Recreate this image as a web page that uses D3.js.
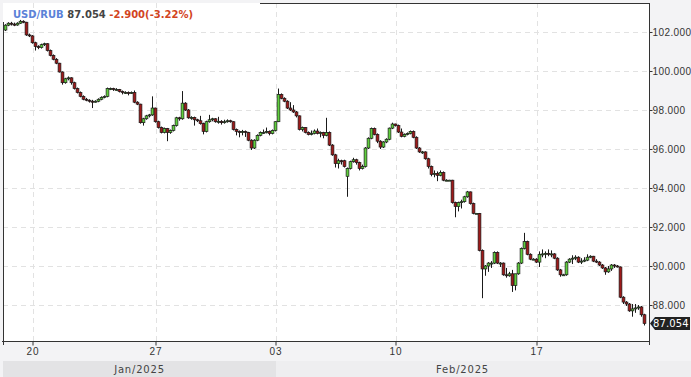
<!DOCTYPE html>
<html>
<head>
<meta charset="utf-8">
<script src="https://cdn.jsdelivr.net/npm/d3@7"></script>
<style>
  body { margin: 0; background: #f3f3f5; }
  svg { display: block; font-family: "DejaVu Sans", sans-serif; }
</style>
</head>
<body>
<svg width="691" height="377"></svg>
<script>
// USD/RUB candles, [open, high, low, close]
var candles = [
  [102.10,102.40,102.05,102.35],[102.35,102.50,102.30,102.45],[102.45,102.52,102.33,102.40],[102.40,102.48,102.30,102.36],
  [102.36,102.50,102.32,102.45],[102.45,102.62,102.42,102.55],[102.55,102.60,102.45,102.50],[102.50,102.52,101.80,101.85],
  [101.85,101.92,101.74,101.80],[101.80,101.84,101.40,101.45],[101.45,101.50,101.05,101.25],[101.25,101.32,101.12,101.20],
  [101.20,101.40,101.15,101.35],[101.35,101.45,101.28,101.40],[101.40,101.42,101.00,101.05],[101.05,101.10,100.75,100.80],
  [100.80,100.85,100.55,100.60],[100.60,100.66,100.35,100.40],[100.40,100.42,99.92,99.95],[99.95,99.98,99.30,99.40],
  [99.40,99.65,99.35,99.60],[99.60,99.72,99.52,99.65],[99.65,99.68,99.30,99.40],[99.40,99.45,99.05,99.10],
  [99.10,99.15,98.85,98.90],[98.90,98.95,98.65,98.70],[98.70,98.75,98.50,98.55],[98.55,98.62,98.45,98.50],
  [98.50,98.55,98.38,98.45],[98.45,98.52,98.10,98.42],[98.42,98.50,98.38,98.45],[98.45,98.60,98.40,98.55],
  [98.55,98.70,98.50,98.65],[98.65,98.75,98.60,98.70],[98.70,99.15,98.65,99.10],[99.10,99.15,99.02,99.10],
  [99.10,99.14,98.98,99.05],[99.05,99.12,99.00,99.05],[99.05,99.08,98.90,98.95],[98.95,99.00,98.80,98.90],
  [98.90,98.96,98.82,98.90],[98.90,98.95,98.75,98.88],[98.88,98.95,98.82,98.90],[98.90,99.00,98.35,98.40],
  [98.40,98.45,98.25,98.30],[98.30,98.32,97.30,97.35],[97.35,97.60,97.20,97.55],[97.55,97.75,97.50,97.70],
  [97.70,97.80,97.62,97.75],[97.75,98.70,97.70,98.10],[98.10,98.12,97.35,97.40],[97.40,97.45,97.05,97.10],
  [97.10,97.15,96.80,96.85],[96.85,97.10,96.80,97.05],[97.05,97.08,96.40,96.85],[96.85,97.00,96.78,96.95],
  [96.95,97.25,96.90,97.20],[97.20,97.65,97.15,97.60],[97.60,97.65,97.45,97.55],[97.55,98.97,97.50,98.35],
  [98.35,98.40,97.95,98.00],[98.00,98.05,97.55,97.60],[97.60,97.68,97.50,97.62],[97.62,97.66,97.20,97.50],
  [97.50,97.55,97.38,97.45],[97.45,97.70,97.25,97.30],[97.30,97.35,96.75,96.90],[96.90,97.45,96.85,97.40],
  [97.40,97.75,97.35,97.50],[97.50,97.60,97.42,97.55],[97.55,97.58,97.35,97.40],[97.40,97.65,97.30,97.42],
  [97.42,97.48,97.25,97.35],[97.35,97.50,97.30,97.40],[97.40,97.52,97.35,97.45],[97.45,97.50,97.35,97.40],
  [97.40,97.42,96.95,97.00],[97.00,97.05,96.70,96.90],[96.90,96.95,96.60,96.85],[96.85,96.98,96.70,96.90],
  [96.90,96.95,96.62,96.85],[96.85,96.88,96.40,96.45],[96.45,96.50,95.95,96.05],[96.05,96.50,96.00,96.45],
  [96.45,96.75,96.40,96.70],[96.70,96.90,96.65,96.85],[96.85,97.00,96.78,96.85],[96.85,97.10,96.80,96.90],
  [96.90,96.95,96.70,96.80],[96.80,97.00,96.75,96.95],[96.95,97.42,96.90,97.40],[97.40,99.10,97.38,98.80],
  [98.80,98.85,98.55,98.60],[98.60,98.65,98.40,98.45],[98.45,98.50,98.05,98.10],[98.10,98.40,97.95,98.00],
  [98.00,98.25,97.85,97.90],[97.90,97.95,97.62,97.70],[97.70,97.72,96.95,97.00],[97.00,97.15,96.90,97.10],
  [97.10,97.12,96.80,96.85],[96.85,96.90,96.70,96.75],[96.75,96.95,96.70,96.80],[96.80,97.00,96.75,96.92],
  [96.92,97.05,96.75,96.80],[96.80,96.90,96.60,96.85],[96.85,96.88,96.55,96.70],[96.70,97.60,96.65,96.85],
  [96.85,96.90,96.15,96.20],[96.20,96.25,95.65,95.70],[95.70,95.75,95.05,95.25],[95.25,95.50,95.00,95.40],
  [95.40,95.45,95.20,95.35],[95.40,95.45,95.05,95.10],[94.60,95.05,93.55,95.00],[95.00,95.40,94.95,95.35],
  [95.35,95.55,95.30,95.45],[95.45,95.50,95.20,95.30],[95.30,95.35,94.90,95.00],[95.00,95.20,94.95,95.10],
  [95.10,96.10,95.05,96.05],[96.05,96.60,96.00,96.55],[96.55,97.10,96.50,97.05],[97.05,97.10,96.70,96.75],
  [96.75,96.80,96.30,96.40],[96.40,96.45,96.00,96.10],[96.10,96.40,96.05,96.36],[96.36,96.55,96.30,96.50],
  [96.50,97.10,96.45,97.07],[97.07,97.35,97.02,97.28],[97.28,97.30,97.15,97.20],[97.20,97.25,96.82,96.87],
  [96.87,97.05,96.60,96.65],[96.65,96.80,96.60,96.75],[96.75,96.85,96.70,96.80],[96.80,96.95,96.75,96.90],
  [96.90,96.95,96.55,96.60],[96.60,96.65,96.00,96.05],[96.05,96.10,95.80,95.85],[95.85,95.90,95.75,95.85],
  [95.85,95.88,95.45,95.50],[95.50,95.55,95.00,95.10],[95.10,95.15,94.60,94.70],[94.70,94.90,94.55,94.75],
  [94.75,94.85,94.35,94.65],[94.65,94.90,94.60,94.80],[94.80,94.85,94.35,94.40],[94.40,94.45,94.35,94.40],
  [94.40,94.42,94.38,94.40],[94.40,94.42,93.20,93.25],[93.25,93.30,92.50,93.05],[93.05,93.30,92.80,93.25],
  [93.25,93.40,92.95,93.30],[93.30,93.60,93.25,93.55],[93.55,93.85,93.50,93.80],[93.80,93.82,93.15,93.20],
  [93.20,93.25,92.65,92.70],[92.70,92.72,92.68,92.70],[92.70,92.72,90.75,90.80],[90.80,90.85,88.35,89.85],
  [89.85,90.05,89.50,90.00],[90.00,90.20,89.70,90.15],[90.15,90.25,89.90,90.15],[90.15,90.75,90.10,90.70],
  [90.70,90.75,90.10,90.15],[90.15,90.20,89.95,90.15],[90.15,90.18,89.50,89.55],[89.55,89.90,89.40,89.50],
  [89.50,89.70,89.45,89.60],[89.60,89.80,88.67,89.00],[89.00,89.60,88.75,89.60],[89.60,90.20,89.55,90.15],
  [90.15,90.95,90.10,90.90],[90.90,91.70,90.85,91.25],[91.25,91.30,90.55,90.60],[90.60,90.65,90.30,90.35],
  [90.35,90.40,90.30,90.35],[90.35,90.40,90.15,90.20],[90.20,90.75,89.95,90.60],[90.60,90.85,90.45,90.62],
  [90.62,90.75,90.40,90.65],[90.65,90.85,90.50,90.60],[90.60,90.80,90.45,90.62],[90.62,90.66,90.35,90.40],
  [90.40,90.45,89.75,89.80],[89.80,89.85,89.45,89.55],[89.55,89.60,89.50,89.55],[89.55,90.25,89.50,90.20],
  [90.20,90.40,90.15,90.35],[90.35,90.55,90.10,90.40],[90.40,90.55,90.30,90.45],[90.45,90.50,90.15,90.20],
  [90.20,90.40,90.10,90.25],[90.25,90.45,90.20,90.30],[90.30,90.60,90.25,90.45],[90.45,90.55,90.40,90.50],
  [90.50,90.52,90.20,90.25],[90.25,90.35,90.15,90.20],[90.20,90.25,90.00,90.05],[90.05,90.10,89.85,89.90],
  [89.90,89.95,89.55,89.70],[89.70,90.00,89.65,89.85],[89.85,90.10,89.75,90.05],[90.05,90.10,89.90,90.00],
  [90.00,90.05,89.92,89.95],[89.95,89.98,88.35,88.40],[88.40,88.45,88.05,88.15],[88.15,88.20,87.95,88.05],
  [88.05,88.10,87.65,87.70],[87.70,88.05,87.40,87.80],[87.80,88.05,87.60,87.85],[87.85,88.00,87.75,87.90],
  [87.90,87.95,87.40,87.50],[87.50,87.55,86.95,87.054]
];

var yTicks = [88, 90, 92, 94, 96, 98, 100, 102];
var dayLabels = ["20", "27", "03", "10", "17"];
var dayIndex = [10, 51, 91, 131, 178];
var monthLabels = ["Jan/2025", "Feb/2025"];
var monthIndex = [0, 91];
var lastPrice = 87.054;

var svg = d3.select("svg");
var pL = 3, pR = 649, pT = 3, pB = 341;

var x = d3.scaleBand().domain(d3.range(candles.length)).range([pL, 645]);
var y = d3.scaleLinear().domain([86.154, 103.487]).range([pB, pT]);

// plot background
svg.append("rect").attr("x", pL).attr("y", pT)
  .attr("width", pR - pL).attr("height", pB - pT).attr("fill", "#fff");

// grid
var grid = svg.append("g").attr("stroke", "#e2e2e2").attr("stroke-dasharray", "5,4");
grid.selectAll(".gy").data(yTicks).enter().append("line")
  .attr("x1", pL).attr("x2", pR)
  .attr("y1", d => Math.round(y(d)) + 0.5).attr("y2", d => Math.round(y(d)) + 0.5);
grid.selectAll(".gx").data(dayIndex).enter().append("line")
  .attr("x1", d => Math.round(x(d)) + 0.5).attr("x2", d => Math.round(x(d)) + 0.5)
  .attr("y1", pT).attr("y2", pB);

// candles
var cx = i => Math.round(x(i) + x.step() / 2);
var cg = svg.append("g");
cg.selectAll(".wick").data(candles).enter().append("line")
  .attr("x1", (d, i) => cx(i) + 0.5).attr("x2", (d, i) => cx(i) + 0.5)
  .attr("y1", d => y(d[1])).attr("y2", d => y(d[2]))
  .attr("stroke", "#1a1a1a").attr("stroke-width", 1);
cg.selectAll(".body").data(candles).enter().append("rect")
  .attr("x", (d, i) => cx(i) - 0.9)
  .attr("width", 2.8)
  .attr("y", d => y(Math.max(d[0], d[3])))
  .attr("height", d => Math.max(1, Math.abs(y(d[0]) - y(d[3]))))
  .attr("fill", d => d[3] >= d[0] ? "#5fcf3c" : "#9e1a1a")
  .attr("stroke", "#1a1a1a").attr("stroke-width", 0.7);

// frame
svg.append("line").attr("x1", pR + 0.5).attr("x2", pR + 0.5).attr("y1", pT).attr("y2", pB + 4)
  .attr("stroke", "#333");
svg.append("line").attr("x1", pL - 1).attr("x2", pR + 1).attr("y1", pB + 0.5).attr("y2", pB + 0.5)
  .attr("stroke", "#333");
svg.append("line").attr("x1", pL + 0.5).attr("x2", pL + 0.5).attr("y1", 22).attr("y2", pB + 4)
  .attr("stroke", "#333");
svg.append("line").attr("x1", 260).attr("x2", pR + 1).attr("y1", pT + 0.5).attr("y2", pT + 0.5)
  .attr("stroke", "#333");

// right axis
var yAxis = d3.axisRight(y).tickValues(yTicks).tickSize(3).tickFormat(d3.format(".3f"));
var ya = svg.append("g").attr("transform", "translate(" + (pR + 0.5) + ",0)").call(yAxis);
ya.select(".domain").remove();
ya.selectAll("line").attr("stroke", "#333");
ya.selectAll("text").attr("x", 3).attr("fill", "#333")
  .style("font-size", "10px").style("letter-spacing", "0.4px");

// bottom axis
var xAxis = d3.axisBottom(x).tickValues(dayIndex).tickSize(4)
  .tickFormat(d => dayLabels[dayIndex.indexOf(d)]);
var xa = svg.append("g").attr("transform", "translate(" + (-x.step() / 2) + "," + (pB + 0.5) + ")").call(xAxis);
xa.select(".domain").remove();
xa.selectAll("line").attr("stroke", "#333");
xa.selectAll("text").attr("y", 6).attr("fill", "#333")
  .style("font-size", "10px").style("letter-spacing", "1px");

// month band
var mStart = monthIndex.map(i => x(i));
var mEnd = [x(monthIndex[1]), 691];
var mb = svg.append("g");
mb.selectAll("rect").data(monthLabels).enter().append("rect")
  .attr("x", (d, i) => mStart[i]).attr("width", (d, i) => mEnd[i] - mStart[i])
  .attr("y", 361).attr("height", 16)
  .attr("fill", (d, i) => i === 0 ? "#e3e3e5" : "#eeeef0");
mb.selectAll("text").data(monthLabels).enter().append("text")
  .attr("x", (d, i) => (mStart[i] + Math.min(mEnd[i], pR)) / 2)
  .attr("y", 373).attr("text-anchor", "middle")
  .attr("fill", "#444").style("font-size", "10px").style("letter-spacing", "0.8px")
  .text(d => d);

// last price tag
var ly = y(lastPrice);
svg.append("path")
  .attr("d", "M650," + ly + " L655," + (ly - 6.5) + " L690," + (ly - 6.5) + " L690," + (ly + 6.5) + " L655," + (ly + 6.5) + " Z")
  .attr("fill", "#222");
svg.append("text").attr("x", 653).attr("y", ly + 4).attr("fill", "#fff")
  .style("font-size", "10px").style("letter-spacing", "0.1px").text(d3.format(".3f")(lastPrice));

// title
var title = svg.append("text").attr("x", 13).attr("y", 18).style("font-size", "10px").style("font-weight", "bold");
title.append("tspan").attr("fill", "#5b82d8").text("USD/RUB ");
title.append("tspan").attr("fill", "#444").text("87.054 ");
title.append("tspan").attr("fill", "#d2441e").text("-2.900(-3.22%)");
</script>
</body>
</html>
